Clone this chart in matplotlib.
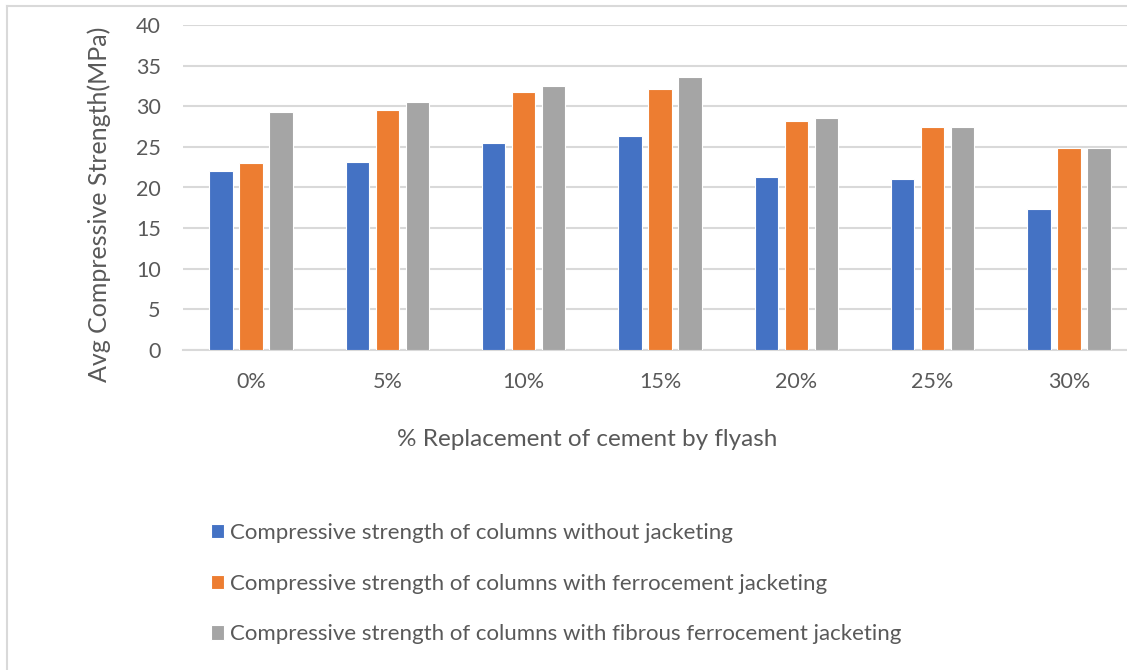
import numpy as np
import matplotlib.pyplot as plt
from matplotlib.lines import Line2D

plt.rcParams['font.family'] = ['Lato', 'DejaVu Sans']

# percentage of cement replaced by flyash
categories = ['0%', '5%', '10%', '15%', '20%', '25%', '30%']
without_jacket = [22.0, 23.2, 25.5, 26.4, 21.3, 21.0, 17.4]
ferro_jacket = [23.0, 29.5, 31.7, 32.1, 28.2, 27.4, 24.8]
fibrous_jacket = [29.3, 30.5, 32.5, 33.6, 28.5, 27.5, 24.9]
series_names = ['Compressive strength of columns without jacketing',
                'Compressive strength of columns with ferrocement jacketing',
                'Compressive strength of columns with fibrous ferrocement jacketing']
colors = ['#4472C4', '#ED7D31', '#A5A5A5']

txt = '#595959'
fig = plt.figure(figsize=(11.27, 6.70), dpi=100)
ax = fig.add_axes([183/1127, 1-350/670, 954/1127, 325/670])

x = np.arange(len(categories))
w = 0.172
step = 0.22
bars = []
for i, vals in enumerate([without_jacket, ferro_jacket, fibrous_jacket]):
    b = ax.bar(x + (i-1)*step, vals, width=w, color=colors[i],
               edgecolor='white', linewidth=0.8, zorder=3, label=series_names[i])
    bars.append(b)

ax.set_xlim(-0.5, len(categories)-0.5)
ax.set_ylim(0, 40)
ax.set_yticks(np.arange(0, 41, 5))
ax.set_xticks(x)
ax.set_xticklabels(categories)
ax.grid(axis='y', color='#D9D9D9', linewidth=1.5, zorder=0)
ax.tick_params(axis='both', length=0, colors=txt, labelsize=15.5)
ax.tick_params(axis='y', pad=16)
ax.tick_params(axis='x', pad=16)
for s in ['top', 'right', 'left']:
    ax.spines[s].set_visible(False)
ax.spines['bottom'].set_color('#D9D9D9')
ax.spines['bottom'].set_linewidth(1.5)

ax.set_ylabel('Avg Compressive Strength(MPa)', color=txt, fontsize=18)
ax.yaxis.set_label_coords(-0.075, 0.448)
fig.text(587/1127, 1-440/670, '% Replacement of cement by flyash', color=txt,
         fontsize=17.5, ha='center', va='center')

leg = fig.legend(handles=bars, loc='upper left', bbox_to_anchor=(211/1127, 1-523/670),
                 frameon=False, fontsize=16, labelcolor=txt, handlelength=0.6,
                 handleheight=0.6, handletextpad=0.25, labelspacing=1.38,
                 borderaxespad=0, borderpad=0)

# chart area frame on the left and top
fig.add_artist(Line2D([6.5/1127, 6.5/1127], [0, 1-5.5/670], color='#D9D9D9', linewidth=1.5))
fig.add_artist(Line2D([6.5/1127, 1], [1-5.5/670, 1-5.5/670], color='#D9D9D9', linewidth=1.5))

fig.savefig('out.png', dpi=100)
